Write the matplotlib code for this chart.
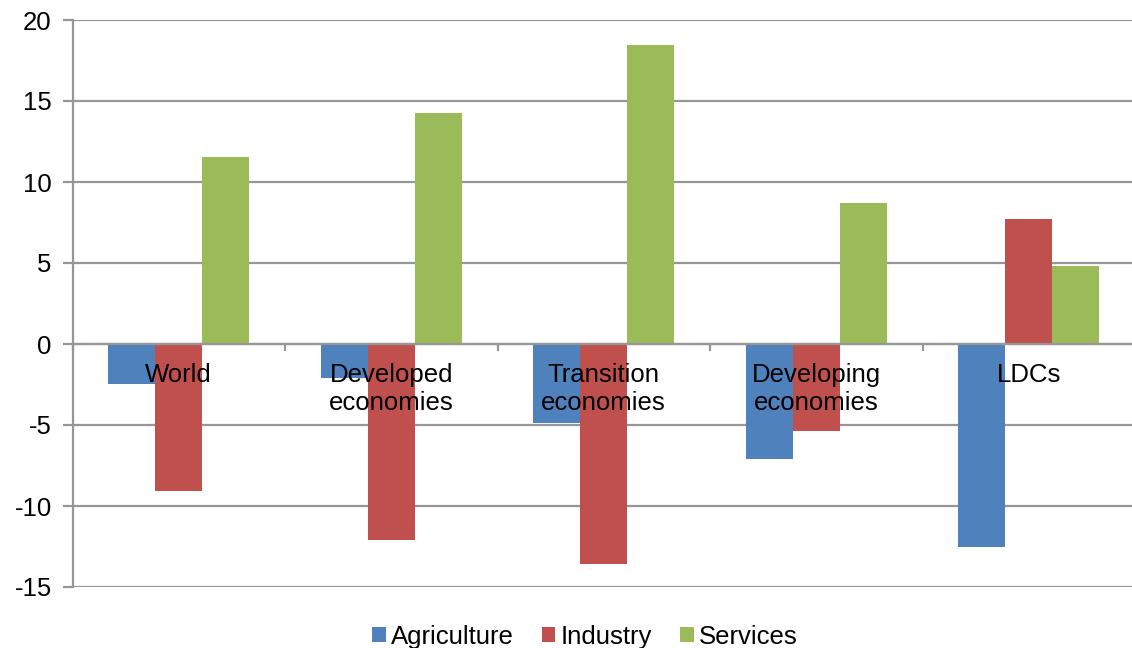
import numpy as np
import matplotlib
matplotlib.use("Agg")
import matplotlib.pyplot as plt
import matplotlib.transforms as mtransforms

plt.rcParams['font.family'] = ['Liberation Sans', 'DejaVu Sans']

regions = ["World", "Developed\neconomies", "Transition\neconomies",
           "Developing\neconomies", "LDCs"]
agriculture = [-2.47, -2.12, -4.86, -7.12, -12.55]
industry = [-9.07, -12.12, -13.56, -5.35, 7.72]
services = [11.54, 14.26, 18.46, 8.70, 4.83]
series_names = ["Agriculture", "Industry", "Services"]
series_colors = ["#4F81BD", "#C0504D", "#9BBB59"]
y_ticks = [-15, -10, -5, 0, 5, 10, 15, 20]

grey = "#969696"
fs = 18.5

W, H = 1132, 648
fig = plt.figure(figsize=(W / 100, H / 100), dpi=100)
ax = fig.add_axes([72.5 / W, 1 - 587 / H, (1135 - 72.5) / W, (587 - 20) / H])

x = np.arange(len(regions))
bw = 0.221
for i, (vals, name, col) in enumerate(zip([agriculture, industry, services],
                                          series_names, series_colors)):
    ax.bar(x + (i - 1) * bw, vals, bw, color=col, label=name, zorder=2)

ax.set_xlim(-0.5, len(regions) - 0.5)
ax.set_ylim(min(y_ticks), max(y_ticks))
ax.set_yticks(y_ticks)
ax.set_yticklabels([str(v) for v in y_ticks], fontsize=fs)
ax.set_axisbelow(True)
ax.yaxis.grid(True, color=grey, linewidth=1.6)
ax.tick_params(axis='y', direction='out', length=7, width=1.6, color=grey, pad=8)

# category separators on the zero line
ax.set_xticks(np.arange(len(regions) + 1) - 0.5)
ax.set_xticklabels([])
ax.tick_params(axis='x', direction='out', length=5, width=1.6, color=grey)
ax.spines['bottom'].set_position(('data', 0))
ax.spines['bottom'].set_color(grey)
ax.spines['bottom'].set_linewidth(1.6)
ax.spines['left'].set_color(grey)
ax.spines['left'].set_linewidth(1.6)
ax.spines['top'].set_visible(False)
ax.spines['right'].set_visible(False)

# category labels drawn over the bars, just below zero
trans = mtransforms.offset_copy(ax.transData, fig=fig, x=0, y=-19, units='dots')
for xi, name in zip(x, regions):
    ax.text(xi, 0, name, transform=trans, ha='center', va='top',
            fontsize=fs, linespacing=1.2, zorder=5)

fig.legend(loc='center', bbox_to_anchor=(585 / W, 1 - 637 / H), ncol=3,
           frameon=False, fontsize=fs, handlelength=0.52, handleheight=0.52,
           handletextpad=0.2, columnspacing=1.1, borderaxespad=0)

fig.savefig("out.png", dpi=100)
